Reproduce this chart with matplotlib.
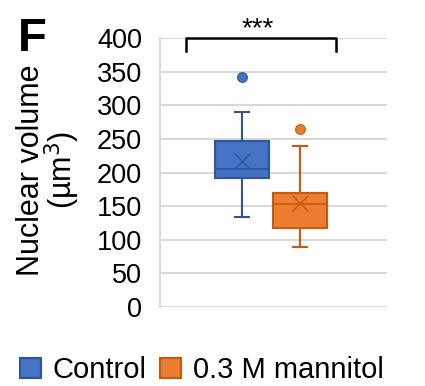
import matplotlib
matplotlib.use("Agg")
import matplotlib.pyplot as plt
from matplotlib.patches import Patch

plt.rcParams['font.family'] = ['Liberation Sans', 'DejaVu Sans']

# box statistics (um^3)
groups = ["Control", "0.3 M mannitol"]
q1 = [192, 117]
med = [205, 153]
q3 = [247, 169]
mean = [217, 154]
whislo = [133, 89]
whishi = [290, 240]
fliers = [[342], [265]]
positions = [0.361, 0.617]

fills = ["#4472C4", "#ED7D31"]
edges = ["#2F5597", "#C55A11"]

fig = plt.figure(figsize=(4.25, 3.86), dpi=100)
ax = fig.add_axes([0.377, 0.2054, 0.533, 0.6954])

for i in range(2):
    st = [dict(med=med[i], q1=q1[i], q3=q3[i], mean=mean[i],
               whislo=whislo[i], whishi=whishi[i], fliers=fliers[i])]
    ax.bxp(st, positions=[positions[i]], widths=0.24, showmeans=True,
           patch_artist=True, manage_ticks=False,
           boxprops=dict(facecolor=fills[i], edgecolor=edges[i], linewidth=1.5),
           medianprops=dict(color=edges[i], linewidth=1.2),
           whiskerprops=dict(color=edges[i], linewidth=1.5),
           capprops=dict(color=edges[i], linewidth=1.5),
           capwidths=0.066,
           meanprops=dict(marker='x', markersize=12, markeredgecolor=edges[i],
                          markeredgewidth=1.0),
           flierprops=dict(marker='o', markersize=7, markerfacecolor=fills[i],
                           markeredgecolor=edges[i], markeredgewidth=0.8))

ax.set_xlim(0, 1)
ax.set_ylim(0, 400)
ax.set_yticks(range(0, 401, 50))
ax.set_xticks([])
ax.yaxis.grid(True, color="#D9D9D9", linewidth=1.5)
ax.set_axisbelow(True)
for s in ["top", "right", "bottom"]:
    ax.spines[s].set_visible(False)
ax.spines["left"].set_color("#D9D9D9")
ax.spines["left"].set_linewidth(1.5)
ax.tick_params(axis='y', length=0, pad=13, labelsize=19.5)
ax.set_ylabel("Nuclear volume\n(µm$^3$)", fontsize=22, linespacing=0.88)
ax.yaxis.set_label_coords(-0.345, 0.51)

# significance bracket
bx = [0.114, 0.114, 0.778, 0.778]
by = [381, 400, 400, 381]
ax.plot(bx, by, color="black", linewidth=1.8, clip_on=False)
ax.text(0.432, 413, "***", ha="center", va="center", fontsize=20, clip_on=False)

fig.text(0.042, 0.955, "F", fontsize=34, fontweight="bold", va="top", ha="left")

handles = [Patch(facecolor=fills[i], edgecolor=edges[i], linewidth=1.5) for i in range(2)]
fig.legend(handles, groups, loc="center", bbox_to_anchor=(0.475, 0.041), ncol=2,
           frameon=False, fontsize=21, handlelength=0.72, handleheight=0.72,
           handletextpad=0.42, columnspacing=0.45, borderpad=0)

fig.savefig("out.png", dpi=100)
